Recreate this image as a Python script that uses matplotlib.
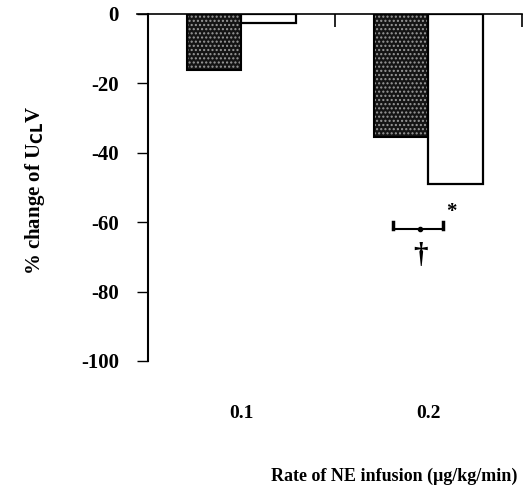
import matplotlib
matplotlib.use("Agg")
import matplotlib.pyplot as plt
import numpy as np

rates = ["0.1", "0.2"]
dark_vals = [-16, -35.5]
white_vals = [-2.5, -49]
yticks = [0, -20, -40, -60, -80, -100]

plt.rcParams["font.family"] = ["Liberation Serif", "DejaVu Serif"]
plt.rcParams["font.weight"] = "bold"

fig = plt.figure(figsize=(5.24, 4.96), dpi=100)
ax = fig.add_axes([0.2824, 0.2722, 0.7137, 0.6996])

x = np.arange(len(rates)) + 0.5
w = 0.29
# stippled dark bars: near-black fill + grey dots, then black outline
ax.bar(x - w / 2, dark_vals, w, color="#141414", edgecolor="#9a9a9a",
       hatch="....", lw=0, zorder=2)
ax.bar(x - w / 2, dark_vals, w, fill=False, edgecolor="black", lw=1.5, zorder=3)
ax.bar(x + w / 2, white_vals, w, color="white", edgecolor="black", lw=1.6, zorder=3)

ax.set_xlim(0, 2)
ax.set_ylim(-100, 0)
for s in ["right", "bottom"]:
    ax.spines[s].set_visible(False)
ax.spines["left"].set_linewidth(1.5)
ax.spines["top"].set_linewidth(1.2)
ax.spines["top"].set_bounds(-0.06, 2)

ax.set_yticks(yticks)
ax.set_yticklabels([str(v) for v in yticks], fontsize=15)
ax.tick_params(axis="y", direction="out", length=8, width=1, pad=13)

# boundary tick marks on the zero line, pointing down into the plot
ax.xaxis.set_ticks_position("top")
ax.set_xticks([1, 2])
ax.set_xticklabels([])
ax.tick_params(axis="x", direction="in", length=9, width=1.2)

for xi, lab in zip(x, rates):
    ax.text(xi, -115, lab, ha="center", va="center", fontsize=14,
            fontweight="bold", clip_on=False)

fig.text(394 / 524, 1 - 476 / 496, "Rate of NE infusion (\u03bcg/kg/min)",
         ha="center", va="center", fontsize=13, fontweight="bold")
fig.text(35 / 524, 1 - 190 / 496, "% change of U$_{\\mathbf{CL}}$V",
         rotation=90, ha="center", va="center", fontsize=15, fontweight="bold")

# significance bracket between the two 0.2 bars
bx0, bx1, by = 1.31, 1.58, -62
ax.plot([bx0, bx1], [by, by], color="black", lw=1.5, zorder=4)
ax.plot([bx0, bx0], [by, by + 2], color="black", lw=2.5, zorder=4)
ax.plot([bx1, bx1], [by, by + 2], color="black", lw=2.5, zorder=4)
ax.plot([1.455], [by], "o", color="black", ms=3, zorder=4)
ax.text(1.455, -69.5, "\u2020", ha="center", va="center", fontsize=21,
        fontweight="bold")
ax.text(1.625, -57, "*", ha="center", va="center", fontsize=15,
        fontweight="bold")

fig.savefig("out.png", dpi=100)
